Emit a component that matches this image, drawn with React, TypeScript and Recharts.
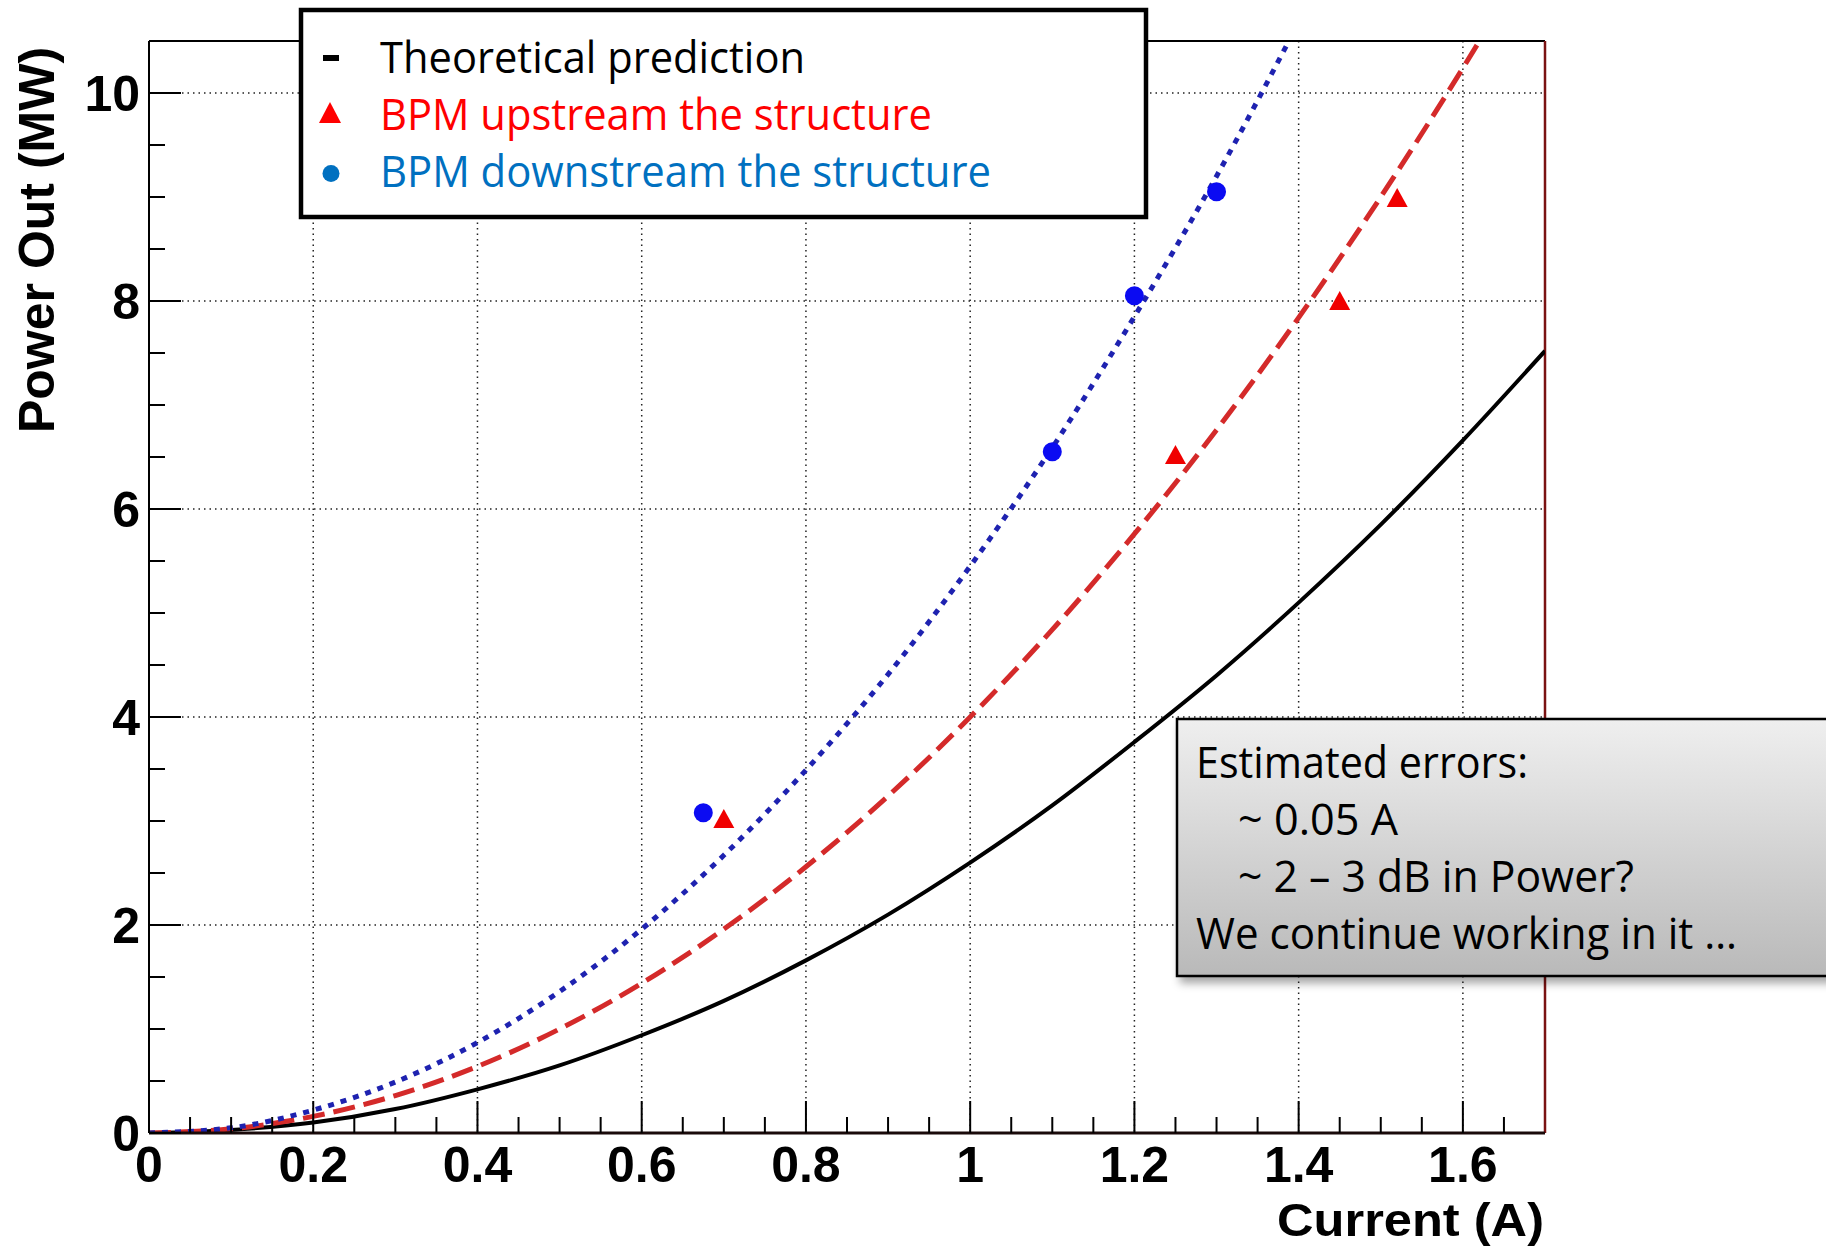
import { CartesianGrid, ComposedChart, Line, ReferenceLine, Scatter, XAxis, YAxis } from 'recharts';

// current (A) sampled along the fitted curves
const currentSteps = [0, 0.1, 0.2, 0.3, 0.4, 0.5, 0.6, 0.7, 0.8, 0.9, 1.0, 1.1, 1.2, 1.3, 1.4, 1.5, 1.6, 1.7];

// power out (MW)
const theoryPower = [0, 0.03, 0.1, 0.23, 0.42, 0.65, 0.94, 1.27, 1.66, 2.1, 2.6, 3.15, 3.76, 4.4, 5.1, 5.85, 6.66, 7.52];
const upstreamFitPower = [0, 0.04, 0.16, 0.36, 0.64, 1.0, 1.44, 1.96, 2.56, 3.24, 4.0, 4.84, 5.76, 6.76, 7.84, 9.0, 10.24, 11.56];
const downstreamFitPower = [0, 0.05, 0.22, 0.49, 0.87, 1.36, 1.96, 2.67, 3.49, 4.41, 5.45, 6.59, 7.85, 9.2, 10.68];

// measured points
const upstreamCurrent = [0.7, 1.25, 1.45, 1.52];
const upstreamPower = [3.02, 6.52, 8.0, 8.99];
const downstreamCurrent = [0.675, 1.1, 1.2, 1.3];
const downstreamPower = [3.08, 6.55, 8.05, 9.05];

const xMajorTicks = [0, 0.2, 0.4, 0.6, 0.8, 1, 1.2, 1.4, 1.6];
const yMajorTicks = [0, 2, 4, 6, 8, 10];
const xAllTicks = Array.from({ length: 34 }, (_, i) => Math.round(i * 5) / 100);
const yAllTicks = Array.from({ length: 21 }, (_, i) => i / 2);

const legendLabels = ['Theoretical prediction', 'BPM upstream the structure', 'BPM downstream the structure'];
const noteLines = ['Estimated errors:', '~ 0.05 A', '~ 2 \u2013 3 dB in Power?', 'We continue working in it \u2026'];

const toPoints = (xs: number[], ys: number[]) => ys.map((y, i) => ({ x: xs[i], y }));

const theoryData = toPoints(currentSteps, theoryPower);
const upstreamFit = toPoints(currentSteps, upstreamFitPower);
const downstreamFit = toPoints(currentSteps, downstreamFitPower);
const upstreamData = toPoints(upstreamCurrent, upstreamPower);
const downstreamData = toPoints(downstreamCurrent, downstreamPower);

const boldFamily = '"Liberation Sans", Arial, sans-serif';
const tickFont = { fontFamily: boldFamily, fontWeight: 700, fontSize: 50 };
const titleFont = { fontFamily: boldFamily, fontWeight: 700, fontSize: 47 };
const textFont = '"Open Sans", "Noto Sans", sans-serif';

const isMajor = (v: number, majors: number[]) => majors.some((m) => Math.abs(m - v) < 1e-6);
const fmt = (v: number) => String(Number(v.toFixed(2)));

const XTick = (props: any) => {
  const { x, y, payload } = props;
  const major = isMajor(payload.value, xMajorTicks);
  return (
    <g>
      <line x1={x} y1={y} x2={x} y2={y - (major ? 32 : 16)} stroke="#000" strokeWidth={2} />
      {major && (
        <text x={x} y={y + 49} textAnchor="middle" fill="#000" style={tickFont}>
          {fmt(payload.value)}
        </text>
      )}
    </g>
  );
};

const YTick = (props: any) => {
  const { x, y, payload } = props;
  const major = isMajor(payload.value, yMajorTicks);
  return (
    <g>
      <line x1={x} y1={y} x2={x + (major ? 32 : 16)} y2={y} stroke="#000" strokeWidth={2} />
      {major && (
        <text x={x - 9} y={y + 18} textAnchor="end" fill="#000" style={tickFont}>
          {fmt(payload.value)}
        </text>
      )}
    </g>
  );
};

const Dot = (props: any) => <circle cx={props.cx} cy={props.cy} r={9.5} fill="#0b0bf2" />;
const Tri = (props: any) => (
  <polygon
    points={`${props.cx - 10.5},${props.cy + 9} ${props.cx + 10.5},${props.cy + 9} ${props.cx},${props.cy - 10}`}
    fill="#f00000"
  />
);

const Overlay = () => (
  <svg width={1826} height={1246} style={{ position: 'absolute', left: 0, top: 0, pointerEvents: 'none' }}>
    <defs>
      <linearGradient id="noteFill" x1="0" y1="0" x2="0" y2="1">
        <stop offset="0%" stopColor="#efefef" />
        <stop offset="100%" stopColor="#b9b9b9" />
      </linearGradient>
      <filter id="shadow" x="-5%" y="-5%" width="115%" height="125%">
        <feDropShadow dx="4" dy="6" stdDeviation="4" floodColor="#000" floodOpacity="0.35" />
      </filter>
    </defs>

    {/* axis titles */}
    <text x={1277} y={1236} style={titleFont} textLength={267} lengthAdjust="spacingAndGlyphs">Current (A)</text>
    <text transform="translate(54,240) rotate(-90)" textAnchor="middle" style={{ ...titleFont, fontSize: 50 }}>Power Out (MW)</text>

    {/* legend */}
    <rect x={301} y={10} width={845} height={207} fill="#fff" stroke="#000" strokeWidth={4.5} />
    <rect x={323} y={55} width={16} height={6} fill="#000" />
    <polygon points="319,123 341,123 330,102" fill="#ff0000" />
    <circle cx={331} cy={173.5} r={8.5} fill="#0070c0" />
    <text x={380} y={73} fill="#000" fontFamily={textFont} fontSize={44} textLength={425} lengthAdjust="spacingAndGlyphs">{legendLabels[0]}</text>
    <text x={380} y={130} fill="#ff0000" fontFamily={textFont} fontSize={44} textLength={552} lengthAdjust="spacingAndGlyphs">{legendLabels[1]}</text>
    <text x={380} y={187} fill="#0070c0" fontFamily={textFont} fontSize={44} textLength={611} lengthAdjust="spacingAndGlyphs">{legendLabels[2]}</text>

    {/* note box */}
    <rect x={1177} y={719} width={700} height={257} fill="url(#noteFill)" stroke="#000" strokeWidth={2.5} filter="url(#shadow)" />
    <text x={1196} y={778} fontFamily={textFont} fontSize={43} textLength={332} lengthAdjust="spacingAndGlyphs">{noteLines[0]}</text>
    <text x={1238} y={835} fontFamily={textFont} fontSize={43} textLength={160} lengthAdjust="spacingAndGlyphs">{noteLines[1]}</text>
    <text x={1238} y={892} fontFamily={textFont} fontSize={43} textLength={396} lengthAdjust="spacingAndGlyphs">{noteLines[2]}</text>
    <text x={1196} y={949} fontFamily={textFont} fontSize={43} textLength={541} lengthAdjust="spacingAndGlyphs">{noteLines[3]}</text>
  </svg>
);

export default function App() {
  return (
    <div style={{ position: 'absolute', left: 0, top: 0, width: 1826, height: 1246, background: '#fff' }}>
      <ComposedChart width={1826} height={1246} margin={{ top: 41, right: 281, bottom: 53, left: 49 }}>
        <CartesianGrid
          verticalValues={xMajorTicks}
          horizontalValues={yMajorTicks}
          stroke="#222"
          strokeWidth={1.5}
          strokeDasharray="1.5 4"
        />
        <XAxis
          type="number"
          dataKey="x"
          domain={[0, 1.7]}
          ticks={xAllTicks}
          interval={0}
          allowDataOverflow
          height={60}
          tickSize={0}
          tickMargin={0}
          tickLine={false}
          tick={<XTick />}
          axisLine={{ stroke: '#1a0a0a', strokeWidth: 3 }}
        />
        <YAxis
          type="number"
          dataKey="y"
          domain={[0, 10.5]}
          ticks={yAllTicks}
          interval={0}
          allowDataOverflow
          width={100}
          tickSize={0}
          tickMargin={0}
          tickLine={false}
          tick={<YTick />}
          axisLine={{ stroke: '#000', strokeWidth: 2 }}
        />
        <ReferenceLine y={10.5} stroke="#000" strokeWidth={2} />
        <ReferenceLine x={1.7} stroke="#7a1212" strokeWidth={2.5} />
        <Line data={theoryData} dataKey="y" type="monotone" stroke="#000" strokeWidth={4} dot={false} isAnimationActive={false} />
        <Line data={upstreamFit} dataKey="y" type="monotone" stroke="#d42a2a" strokeWidth={5} strokeDasharray="22 9" dot={false} isAnimationActive={false} />
        <Line data={downstreamFit} dataKey="y" type="monotone" stroke="#1e22b0" strokeWidth={5} strokeDasharray="6 7" dot={false} isAnimationActive={false} />
        <Scatter data={downstreamData} shape={<Dot />} isAnimationActive={false} />
        <Scatter data={upstreamData} shape={<Tri />} isAnimationActive={false} />
      </ComposedChart>
      <Overlay />
    </div>
  );
}
